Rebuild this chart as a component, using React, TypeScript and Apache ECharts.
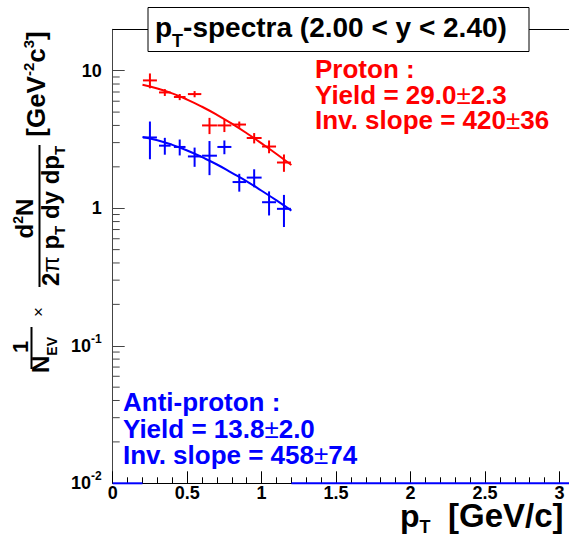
import React, { useEffect, useRef } from "react";
import * as echarts from "echarts";

// Measured points: transverse momentum bin centres and half-widths (GeV/c)
const pT = [0.25, 0.35, 0.45, 0.55, 0.65, 0.75, 0.85, 0.95, 1.05, 1.15];
const pTErr = [0.047, 0.039, 0.039, 0.045, 0.05, 0.047, 0.045, 0.05, 0.047, 0.047];

// Invariant yields with statistical errors
const protonYield = [8.5, 6.95, 6.44, 6.76, 4.0, 4.0, 4.06, 3.24, 2.81, 2.15];
const protonErr = [1.05, 0.4, 0.33, 0.35, 0.54, 0.42, 0.21, 0.28, 0.3, 0.31];
const antiProtonYield = [3.27, 2.85, 2.79, 2.38, 2.41, 2.79, 1.55, 1.67, 1.106, 0.99];
const antiProtonErr = [1.0, 0.4, 0.37, 0.38, 0.67, 0.32, 0.23, 0.25, 0.22, 0.26];

// Exponential mT fits sampled along pT
const fitPT = [0.2, 0.3, 0.4, 0.5, 0.6, 0.7, 0.8, 0.9, 1.0, 1.1, 1.2];
const protonFit = [7.9, 7.43, 6.84, 6.17, 5.47, 4.78, 4.12, 3.51, 2.96, 2.48, 2.06];
const antiProtonFit = [3.3, 3.12, 2.89, 2.63, 2.35, 2.08, 1.81, 1.57, 1.34, 1.14, 0.96];

// Empty-bin stretches of the anti-proton histogram sitting on the axis floor
const antiProtonFloorSpans = [
  [0, 0.2],
  [1.2, 3.5],
];

// Axis ranges and tick labels
const X_MIN = 0;
const X_MAX = 3.5;
const Y_MIN = 0.01;
const Y_MAX = 20;
const xTickLabels = ["0", "0.5", "1", "1.5", "2", "2.5", "3"];
const yTickLabels = [
  { value: 10, base: "10", exp: "" },
  { value: 1, base: "1", exp: "" },
  { value: 0.1, base: "10", exp: "-1" },
  { value: 0.01, base: "10", exp: "-2" },
];
const yMinorTicks: number[] = [];
for (const decade of [0.01, 0.1, 1, 10]) {
  for (let k = 2; k <= 9; k++) {
    const v = k * decade;
    if (v < Y_MAX) yMinorTicks.push(+v.toPrecision(3));
  }
}

const RED = "#ff0000";
const BLUE = "#0000ff";
const FONT = '"Liberation Sans", Arial, Helvetica, sans-serif';

let measureCtx: CanvasRenderingContext2D | null = null;
function textWidth(t: string, size: number, weight: string) {
  if (!measureCtx) measureCtx = document.createElement("canvas").getContext("2d");
  measureCtx!.font = `${weight} ${size}px ${FONT}`;
  return measureCtx!.measureText(t).width;
}

type Piece = { t: string; size: number; shift?: number; weight?: string; at?: number };

// Lays out a run of text pieces (sub/superscripts) on a common baseline.
function textRun(
  pieces: Piece[],
  x: number,
  baseline: number,
  color: string,
  align: "left" | "center",
  rotation = 0,
  z = 20
) {
  const widths = pieces.map((p) => textWidth(p.t, p.size, p.weight ?? "bold"));
  const total = widths.reduce((a, b) => a + b, 0);
  let cursor = align === "center" ? -total / 2 : 0;
  const children = pieces.map((p, i) => {
    const weight = p.weight ?? "bold";
    if (p.at !== undefined) cursor = p.at;
    const lead = p.t.length - p.t.trimStart().length;
    const offset = lead ? textWidth(" ".repeat(lead), p.size, weight) : 0;
    const el = {
      type: "text",
      z,
      x: cursor + offset,
      y: (p.shift ?? 0) - 0.35 * p.size,
      style: {
        text: p.t.trim(),
        fill: color,
        fontSize: p.size,
        fontWeight: weight,
        fontFamily: FONT,
        textAlign: "left",
        textVerticalAlign: "middle",
      },
    };
    cursor += widths[i];
    return el;
  });
  return { type: "group", x, y: baseline, rotation, z, children };
}

function errorBars(color: string) {
  return (_params: any, api: any) => {
    const x = api.value(0);
    const y = api.value(1);
    const ex = api.value(2);
    const ey = api.value(3);
    const l = api.coord([x - ex, y]);
    const r = api.coord([x + ex, y]);
    const t = api.coord([x, y + ey]);
    const b = api.coord([x, y - ey]);
    const style = { stroke: color, lineWidth: 2 };
    return {
      type: "group",
      children: [
        { type: "line", shape: { x1: l[0], y1: l[1], x2: r[0], y2: r[1] }, style },
        { type: "line", shape: { x1: t[0], y1: t[1], x2: b[0], y2: b[1] }, style },
      ],
    };
  };
}

const ROT = Math.PI / 2;

export default function App() {
  const ref = useRef<HTMLDivElement>(null);

  useEffect(() => {
    if (!ref.current) return;
    const chart = echarts.init(ref.current, undefined, { renderer: "svg" });

    const graphic: any[] = [
      // frame top edge
      {
        type: "line",
        z: 5,
        shape: { x1: 112.5, y1: 29.5, x2: 700, y2: 29.5 },
        style: { stroke: "#000", lineWidth: 1 },
      },
      // title box
      {
        type: "rect",
        z: 10,
        shape: { x: 148, y: 7.5, width: 381, height: 44 },
        style: { fill: "#fff", stroke: "#000", lineWidth: 1 },
      },
      textRun(
        [
          { t: "p", size: 28 },
          { t: "T", size: 18, shift: 10 },
          { t: "-spectra (2.00 < y < 2.40)", size: 28 },
        ],
        155,
        37,
        "#000",
        "left"
      ),
      // x-axis title
      textRun(
        [
          { t: "p", size: 32 },
          { t: "T", size: 18, shift: 6 },
          { t: "[GeV/c]", size: 33, at: 48 },
        ],
        400,
        527,
        "#000",
        "left"
      ),
      // y-axis title: 1/N_EV x d2N/(2pi pT dy dpT) [GeV-2 c3]
      textRun(
        [
          { t: "[GeV", size: 26 },
          { t: "-2", size: 15, shift: -11 },
          { t: "c", size: 26 },
          { t: "3", size: 15, shift: -11 },
          { t: "]", size: 26 },
        ],
        45,
        84,
        "#000",
        "center",
        ROT
      ),
      textRun(
        [
          { t: "d", size: 24 },
          { t: "2", size: 14, shift: -10 },
          { t: "N", size: 24 },
        ],
        33,
        218.5,
        "#000",
        "center",
        ROT
      ),
      {
        type: "line",
        z: 20,
        shape: { x1: 39.5, y1: 145, x2: 39.5, y2: 287 },
        style: { stroke: "#000", lineWidth: 2 },
      },
      textRun(
        [
          { t: "2", size: 24 },
          { t: "π", size: 24, weight: "normal" },
          { t: " p", size: 24 },
          { t: "T", size: 15, shift: 6 },
          { t: " dy dp", size: 24 },
          { t: "T", size: 15, shift: 6 },
        ],
        59,
        216,
        "#000",
        "center",
        ROT
      ),
      textRun([{ t: "1", size: 22 }], 28, 347, "#000", "center", ROT),
      {
        type: "line",
        z: 20,
        shape: { x1: 31.5, y1: 327, x2: 31.5, y2: 369 },
        style: { stroke: "#000", lineWidth: 2 },
      },
      textRun(
        [
          { t: "N", size: 24 },
          { t: "EV", size: 14, shift: 8 },
        ],
        49,
        355,
        "#000",
        "center",
        ROT
      ),
      textRun([{ t: "×", size: 17, weight: "normal" }], 44.5, 312, "#000", "center", ROT),
      // proton fit results
      textRun([{ t: "Proton :", size: 26 }], 315, 78.5, RED, "left"),
      textRun(
        [
          { t: "Yield = 29.0", size: 26 },
          { t: "±", size: 26, weight: "normal" },
          { t: "2.3", size: 26 },
        ],
        315,
        104,
        RED,
        "left"
      ),
      textRun(
        [
          { t: "Inv. slope = 420", size: 26 },
          { t: "±", size: 26, weight: "normal" },
          { t: "36", size: 26 },
        ],
        315,
        129.5,
        RED,
        "left"
      ),
      // anti-proton fit results
      textRun([{ t: "Anti-proton :", size: 26 }], 123, 411.5, BLUE, "left"),
      textRun(
        [
          { t: "Yield = 13.8", size: 26 },
          { t: "±", size: 26, weight: "normal" },
          { t: "2.0", size: 26 },
        ],
        123,
        438,
        BLUE,
        "left"
      ),
      textRun(
        [
          { t: "Inv. slope = 458", size: 26 },
          { t: "±", size: 26, weight: "normal" },
          { t: "74", size: 26 },
        ],
        123,
        464.5,
        BLUE,
        "left"
      ),
    ];

    const option: any = {
      animation: false,
      backgroundColor: "#fff",
      grid: { left: 112.7, top: 29.3, width: 521.2, height: 454 },
      xAxis: {
        type: "value",
        min: X_MIN,
        max: X_MAX,
        interval: 0.5,
        axisLine: { show: true, lineStyle: { color: "#000", width: 1 } },
        axisTick: { show: true, inside: true, length: 12, lineStyle: { color: "#000" } },
        minorTick: { show: true, splitNumber: 5, length: 6, lineStyle: { color: "#000" } },
        splitLine: { show: false },
        minorSplitLine: { show: false },
        axisLabel: {
          margin: 1,
          color: "#000",
          fontSize: 18,
          fontWeight: "bold",
          fontFamily: FONT,
          formatter: (v: number) => {
            const s = String(+v.toFixed(2));
            return xTickLabels.includes(s) ? s : "";
          },
        },
      },
      yAxis: {
        type: "log",
        logBase: 10,
        min: Y_MIN,
        max: Y_MAX,
        axisLine: { show: true, lineStyle: { color: "#444", width: 1 } },
        axisTick: { show: true, inside: true, length: 12, lineStyle: { color: "#444" } },
        splitLine: { show: false },
        axisLabel: {
          margin: 11,
          formatter: (v: number) => {
            const t = yTickLabels.find((e) => Math.abs(Math.log10(v) - Math.log10(e.value)) < 1e-6);
            if (!t) return "";
            return t.exp ? `{b|${t.base}}{s|${t.exp}}` : `{b|${t.base}}`;
          },
          rich: {
            b: { fontSize: 18, fontWeight: "bold", fontFamily: FONT, color: "#000", lineHeight: 26 },
            s: {
              fontSize: 12,
              fontWeight: "bold",
              fontFamily: FONT,
              color: "#000",
              verticalAlign: "top",
              lineHeight: 12,
            },
          },
        },
      },
      graphic,
      series: [
        {
          type: "custom",
          name: "y minor ticks",
          silent: true,
          data: yMinorTicks.map((v) => [X_MIN, v]),
          renderItem: (_p: any, api: any) => {
            const c = api.coord([api.value(0), api.value(1)]);
            return {
              type: "line",
              shape: { x1: c[0], y1: c[1], x2: c[0] + 7, y2: c[1] },
              style: { stroke: "#444", lineWidth: 1 },
            };
          },
        },
        ...antiProtonFloorSpans.map((s) => ({
          type: "line",
          clip: false,
          silent: true,
          symbol: "none",
          lineStyle: { color: BLUE, width: 2 },
          data: [
            [s[0], Y_MIN],
            [s[1], Y_MIN],
          ],
        })),
        {
          type: "line",
          name: "proton fit",
          symbol: "none",
          smooth: true,
          lineStyle: { color: RED, width: 2 },
          data: fitPT.map((x, i) => [x, protonFit[i]]),
        },
        {
          type: "line",
          name: "anti-proton fit",
          symbol: "none",
          smooth: true,
          lineStyle: { color: BLUE, width: 2 },
          data: fitPT.map((x, i) => [x, antiProtonFit[i]]),
        },
        {
          type: "custom",
          name: "proton",
          renderItem: errorBars(RED),
          data: pT.map((x, i) => [x, protonYield[i], pTErr[i], protonErr[i]]),
        },
        {
          type: "custom",
          name: "anti-proton",
          renderItem: errorBars(BLUE),
          data: pT.map((x, i) => [x, antiProtonYield[i], pTErr[i], antiProtonErr[i]]),
        },
      ],
    };

    chart.setOption(option);
    return () => chart.dispose();
  }, []);

  return (
    <div
      style={{
        position: "fixed",
        left: 0,
        top: 0,
        width: 569,
        height: 538,
        overflow: "hidden",
        background: "#fff",
      }}
    >
      <div ref={ref} style={{ width: 700, height: 538 }} />
    </div>
  );
}
